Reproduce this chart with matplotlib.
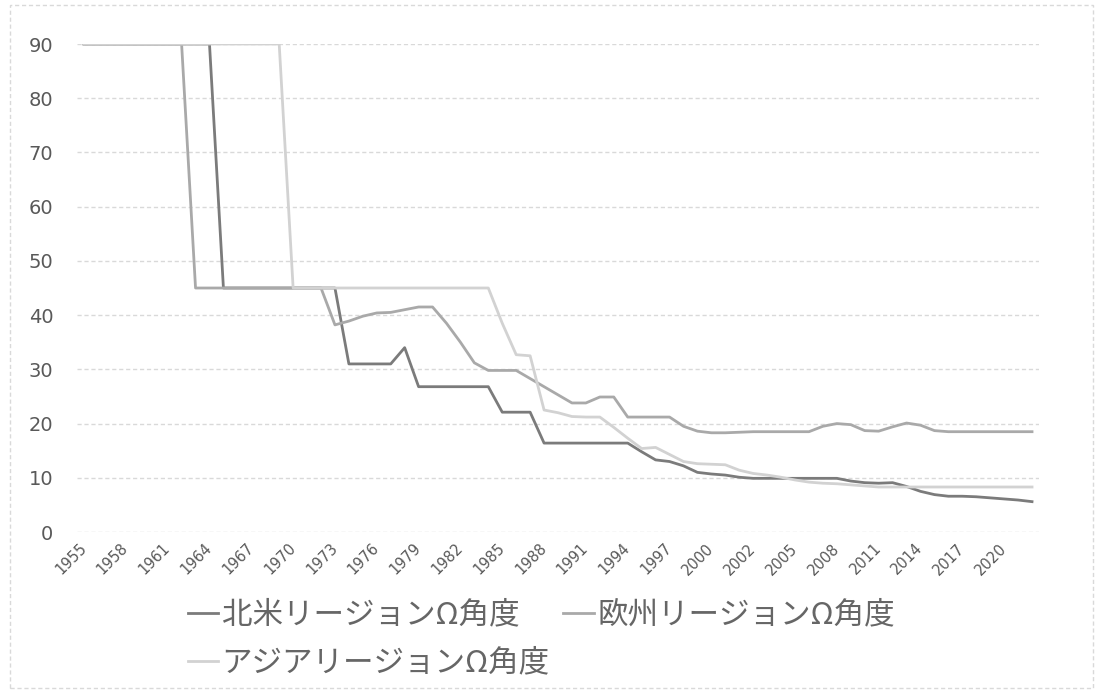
import matplotlib
matplotlib.use("Agg")
import matplotlib.pyplot as plt
from matplotlib.patches import Rectangle

plt.rcParams['font.family'] = ['Noto Sans CJK JP', 'DejaVu Sans']

# category axis (one extra 2001 row in the source table)
years = [str(y) for y in range(1955, 2002)] + [str(y) for y in range(2001, 2023)]

north_america = [90] * 10 + [45] * 9 + [31] * 4 + [34] + [26.8] * 6 + [22.1] * 3 + [16.4] * 7 + \
    [14.8, 13.3, 13.0, 12.2, 11.0, 10.7, 10.5, 10.1] + [9.9] * 7 + \
    [9.4, 9.1, 9.0, 9.1, 8.4, 7.5, 6.9, 6.6, 6.6, 6.5, 6.3, 6.1, 5.9, 5.6]

europe = [90] * 8 + [45] * 10 + \
    [38.2, 38.9, 39.8, 40.4, 40.5, 41.0, 41.5, 41.5, 38.5, 35.0, 31.2] + [29.8] * 3 + \
    [28.3, 26.8, 25.3, 23.8, 23.8, 24.9, 24.9] + [21.2] * 4 + \
    [19.5, 18.6, 18.3, 18.3, 18.4] + [18.5] * 5 + \
    [19.5, 20.0, 19.8, 18.7, 18.6, 19.4, 20.1, 19.7, 18.7] + [18.5] * 7

asia = [90] * 15 + [45] * 15 + \
    [38.5, 32.7, 32.5, 22.5, 22.0, 21.3, 21.2, 21.2, 19.3, 17.3, 15.4, 15.6, 14.3,
     13.0, 12.6, 12.5, 12.4, 11.4, 10.8, 10.5, 10.1, 9.6, 9.2, 9.0, 8.9, 8.7, 8.5] + [8.3] * 12

labels = ['北米リージョンΩ角度', '欧州リージョンΩ角度', 'アジアリージョンΩ角度']
colors = ['#7b7b7b', '#a9a9a9', '#d2d2d2']

fig = plt.figure(figsize=(10.99, 6.93), dpi=100)
ax = fig.add_axes([0.0701, 0.2323, 0.8753, 0.7042])

x = range(len(years))
lines = []
for y, lab, c in zip([north_america, europe, asia], labels, colors):
    ln, = ax.plot(x, y, color=c, lw=2, label=lab, solid_joinstyle='round')
    lines.append(ln)

ax.set_xlim(-0.5, len(years) - 0.5)
ax.set_ylim(0, 90)
ax.set_yticks(range(0, 91, 10))
ax.set_xticks(range(0, len(years), 3))
ax.set_xticklabels(years[::3], rotation=45, ha='right', va='center',
                   rotation_mode='anchor', fontsize=10.5, color='#595959',
                   family='DejaVu Sans')
ax.tick_params(axis='y', length=0, pad=17, labelsize=14, labelcolor='#595959')
ax.tick_params(axis='x', length=0, pad=10)
for lbl in ax.get_yticklabels():
    lbl.set_family('DejaVu Sans')
ax.grid(axis='y', color='#d9d9d9', ls=(0, (3, 2)), lw=1)
ax.set_axisbelow(True)
for s in ax.spines.values():
    s.set_visible(False)

# legend filled column-wise: put Asia second so it lands on the second row
fig.legend([lines[0], lines[2], lines[1]], [labels[0], labels[2], labels[1]],
           loc='upper left', bbox_to_anchor=(0.171, 0.135), ncol=2,
           frameon=False, fontsize=22, handlelength=1.0, handletextpad=0.1,
           columnspacing=0.45, labelspacing=0.55, borderpad=0, borderaxespad=0,
           labelcolor='#666666')

fig.patches.append(Rectangle((10 / 1099, 5 / 693), 1083 / 1099, 683 / 693,
                             transform=fig.transFigure, fill=False,
                             ls=(0, (3, 2)), ec='#d9d9d9', lw=1))

fig.savefig('out.png', dpi=100)
